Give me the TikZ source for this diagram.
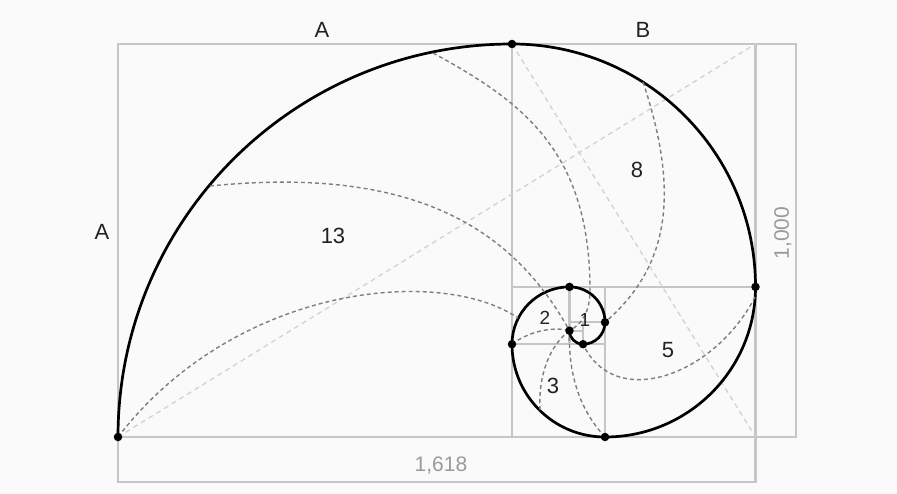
\documentclass[tikz,border=0pt]{standalone}
\usepackage{fontspec}
\setmainfont{Liberation Sans}
\usetikzlibrary{calc}
\definecolor{paper}{HTML}{FAFAFA}
\definecolor{frame}{HTML}{C6C6C6}
\definecolor{wall}{HTML}{7E7E7E}
\definecolor{diag}{HTML}{D2D2D2}
\definecolor{dimtext}{HTML}{9A9A9A}
\definecolor{ink}{HTML}{222222}
\tikzset{
  frameline/.style={draw=frame,line width=2.2pt},
  spiral/.style={draw=black,line width=2.7pt},
  chamber/.style={draw=wall,line width=1.4pt,dash pattern=on 4pt off 3pt},
  diagline/.style={draw=diag,line width=1.3pt,dash pattern=on 5pt off 4pt},
  knot/.style={circle,fill=black,inner sep=0pt,minimum size=8.5pt},
  numlab/.style={font=\fontsize{22}{22}\selectfont,text=ink},
  smalllab/.style={font=\fontsize{19}{19}\selectfont,text=ink},
  dimlab/.style={font=\fontsize{21}{21}\selectfont,text=dimtext}
}

\begin{document}
\begin{tikzpicture}[x=1pt,y=-1pt]
  \fill[paper] (0,0) rectangle (897,494);
  \useasboundingbox (0,0) rectangle (897,494);
  % outer frame and dimension boxes
  \draw[frameline] (118,44) rectangle (796,437);
  \draw[frameline] (118,437) rectangle (755.5,482);
  \begin{scope}[shift={(118,437)},x=394pt,y=393pt]
    % fibonacci squares
    \foreach \sx/\sy/\side in {0/0/1,1/0.381966/0.618034,1.236068/0/0.381966,1/0/0.236068,
        1/0.236068/0.145898,1.145898/0.291796/0.090170,1.180340/0.236068/0.055728,
        1.145898/0.236068/0.034442}
      \draw[frameline] (\sx,\sy) rectangle ++(\side,\side);
    % diagonals
    \draw[diagline] (0,0) -- (1.618034,1);
    \draw[diagline] (1,1) -- (1.618034,0);
    % spiral
    \draw[spiral] (0,0) \foreach \k/\r in {0/1,1/0.618034,2/0.381966,3/0.236068,
        4/0.145898,5/0.090170,6/0.055728,7/0.034442}
      { arc[start angle={180-90*\k},end angle={90-90*\k},radius=\r] };
    \foreach \kx/\ky/\knam in {0/0/k0,1/1/k1,1.618034/0.381966/k2,1.236068/0/k3,
        1/0.236068/k4,1.145898/0.381966/k5,1.236068/0.291796/k6,
        1.180340/0.236068/k7,1.145898/0.270510/k8}
      \coordinate (\knam) at (\kx,\ky);
  \end{scope}
  % chamber walls
  \draw[chamber] (k0) .. controls (235,285) and (440,265) .. (518,318);
  \draw[chamber] (210,186) .. controls (410,166) and (511,225) .. (k8);
  \draw[chamber] (433,53) .. controls (521,101) and (590,150) .. (590,290)
    .. controls (590,312) and (582,324) .. (k8);
  \draw[chamber] (643,82) .. controls (681,196) and (668,268) .. (k6);
  \draw[chamber] (755,297) .. controls (715,375) and (615,412) .. (k7);
  \draw[chamber] (k3) .. controls (580,410) and (568,375) .. (k8);
  \draw[chamber] (540,410) .. controls (538,375) and (550,345) .. (k8);
  \draw[chamber] (k4) .. controls (528,332) and (552,326) .. (k8);
  \foreach \knam in {k0,k1,k2,k3,k4,k5,k6,k7,k8}
    \node[knot] at (\knam) {};
  % labels
  \node[numlab] (topa) at (322,30) {A};
  \node[numlab] (topb) at (643,30) {B};
  \node[numlab] (lefta) at (102,232) {A};
  \node[numlab] (lab13) at (333,236) {13};
  \node[numlab] (lab8) at (637,170) {8};
  \node[numlab] (lab5) at (668,350) {5};
  \node[numlab] (lab3) at (553,386) {3};
  \node[smalllab] (lab2) at (545,318) {2};
  \node[smalllab] (lab1) at (585,320) {1};
  \node[dimlab] (dimw) at (441,466) {1,618};
  \node[dimlab,rotate=90] (dimh) at (783,233) {1,000};
\end{tikzpicture}
\end{document}
